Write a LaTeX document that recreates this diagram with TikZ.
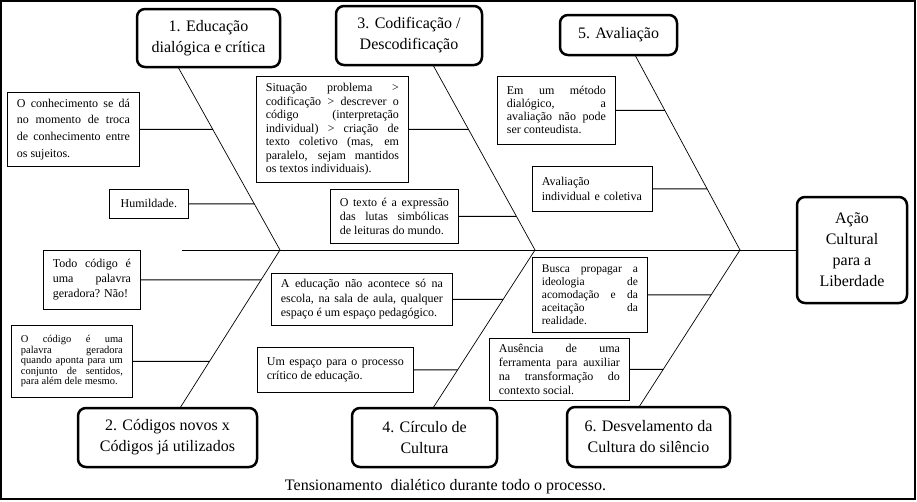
\documentclass[tikz,border=0pt]{standalone}
\usepackage{fontspec}
\setmainfont{Liberation Serif}
\usepackage{tikz}
\tikzset{
  headbox/.style={draw, line width=2.5pt, rounded corners=8pt, align=center,
    inner sep=0pt, font=\fontsize{16}{21}\selectfont},
  causebox/.style={draw, line width=0.8pt, anchor=north west, align=justify,
    inner xsep=9.5pt, inner ysep=2pt, font=\fontsize{12}{14}\selectfont},
  bone/.style={line width=0.7pt},
  spoke/.style={line width=0.9pt}
}
% #1 options, #2 name, #3 x, #4 y, #5 text width, #6 height, #7 bone, #8 text
\newcommand{\drawcause}[8]{
  \node[causebox, text width=#5, minimum height=#6, #1] (#2) at (#3,#4) {#8};
  \path (#2.east) ++(60,0) coordinate (#2r);
  \draw[spoke] (#2.east) -- (intersection of #2.east--#2r and #7);
}
\newcommand{\drawhead}[5]{
  \node[headbox, minimum width=#4, minimum height=#5] (#1) at (#2) {#3};
}

\begin{document}
\begin{tikzpicture}[x=1pt, y=-1pt]
  \useasboundingbox (0,0) rectangle (917,501);
  \draw[line width=1.5pt] (1,1) rectangle (915,499);

  \drawhead{hd1}{208.5,38}{1. Educação\\dialógica e crítica}{143}{58}
  \drawhead{hd3}{409,35.5}{3. Codificação /\\Descodificação}{146}{59}
  \drawhead{hd5}{618.5,35}{5. Avaliação}{117}{40}
  \drawhead{hd2}{167.5,437.5}{2. Códigos novos x\\Códigos já utilizados}{179}{59}
  \drawhead{hd4}{424.5,437.5}{4. Círculo de\\Cultura}{145}{59}
  \drawhead{hd6}{648.5,437}{6. Desvelamento da\\Cultura do silêncio}{163}{60}
  \drawhead{acao}{852,250}{Ação\\Cultural\\para a\\Liberdade}{110}{106}

  \coordinate (t1) at (178,67);
  \coordinate (t2) at (180,408);
  \coordinate (t3) at (433,65);
  \coordinate (t4) at (433,408);
  \coordinate (t5) at (635,55);
  \coordinate (t6) at (639,407);
  \coordinate (v1) at (280,250);
  \coordinate (v2) at (535,250);
  \coordinate (v3) at (740,250);
  \coordinate (s0) at (182,250);

  \draw[bone] (s0) -- (acao.west);
  \draw[bone] (t1) -- (v1) -- (t2);
  \draw[bone] (t3) -- (v2) -- (t4);
  \draw[bone] (t5) -- (v3) -- (t6);

  \drawcause{font=\fontsize{12}{16.7}\selectfont}{conh}{7}{92}{113}{74}{t1--v1}
    {O conhecimento se dá\linebreak no momento de troca\linebreak de conhecimento entre\linebreak os sujeitos.}
  \drawcause{align=center}{humil}{109}{189}{60}{29}{t1--v1}
    {Humildade.}
  \drawcause{font=\fontsize{12}{13.5}\selectfont}{situ}{256}{76}{133}{106}{t3--v2}
    {Situação problema >\linebreak codificação > descrever o\linebreak código (interpretação\linebreak individual) > criação de\linebreak texto coletivo (mas, em\linebreak paralelo, sejam mantidos\linebreak os textos individuais).}
  \drawcause{}{texto}{330}{189}{109}{54}{t3--v2}
    {O texto é a expressão\linebreak das lutas simbólicas\linebreak de leituras do mundo.}
  \drawcause{font=\fontsize{12}{13}\selectfont}{metodo}{497}{76}{99}{68}{t5--v3}
    {Em um método\linebreak dialógico, a\linebreak avaliação não pode\linebreak ser conteudista.}
  \drawcause{align=left, font=\fontsize{12}{15}\selectfont}{indiv}{532}{166}{101}{45}{t5--v3}
    {Avaliação\\individual e coletiva}
  \drawcause{font=\fontsize{12}{15}\selectfont}{todo}{43}{250}{78}{59}{v1--t2}
    {Todo código é\linebreak uma palavra\linebreak geradora? Não!}
  \drawcause{font=\fontsize{10.5}{10.5}\selectfont}{gera}{11}{325}{102}{72}{v1--t2}
    {O código é uma\linebreak palavra geradora\linebreak quando aponta para um\linebreak conjunto de sentidos,\linebreak para além dele mesmo.}
  \drawcause{font=\fontsize{12}{14.5}\selectfont}{escola}{271}{273}{162}{52}{v2--t4}
    {A educação não acontece só na\linebreak escola, na sala de aula, qualquer\linebreak espaço é um espaço pedagógico.}
  \drawcause{}{espaco}{257}{347}{137}{45}{v2--t4}
    {Um espaço para o processo\linebreak crítico de educação.}
  \drawcause{font=\fontsize{11.5}{13.2}\selectfont}{busca}{532}{257}{96}{75}{v3--t6}
    {Busca propagar a\linebreak ideologia de\linebreak acomodação e da\linebreak aceitação da\linebreak realidade.}
  \drawcause{}{ausen}{489}{338}{121}{62}{v3--t6}
    {Ausência de uma\linebreak ferramenta para auxiliar\linebreak na transformação do\linebreak contexto social.}

  \node[font=\fontsize{16}{19}\selectfont] (tens) at (445.5,487) {Tensionamento\ \ dialético durante todo o processo.};
\end{tikzpicture}
\end{document}
